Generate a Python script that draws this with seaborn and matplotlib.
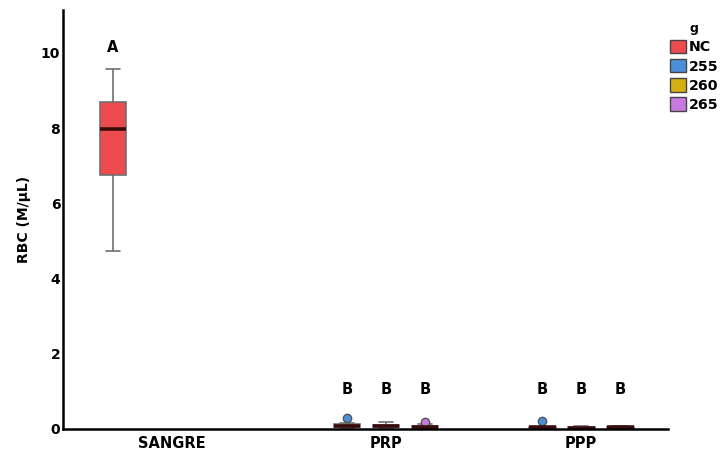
import numpy as np
import pandas as pd
import matplotlib
matplotlib.use("Agg")
import matplotlib.pyplot as plt
import seaborn as sns
from matplotlib.patches import Patch

# Sample groups and hue levels
groups = ["SANGRE", "PRP", "PPP"]
hue_levels = ["NC", "255", "260", "265"]
palette = {"NC": "#EE4B4E", "255": "#4A90D9", "260": "#D6B012", "265": "#C77BE0"}

# RBC measurements (M/µL) per group and hue level
sangre_nc = [4.72, 6.20, 6.76, 7.40, 7.97, 8.40, 8.70, 9.10, 9.57]
prp_255 = [0.02, 0.04, 0.05, 0.07, 0.08, 0.10, 0.12, 0.17, 0.28]
prp_260 = [0.02, 0.03, 0.04, 0.06, 0.07, 0.09, 0.11, 0.14, 0.18]
prp_265 = [0.02, 0.03, 0.04, 0.05, 0.06, 0.08, 0.09, 0.14, 0.19]
ppp_255 = [0.01, 0.02, 0.02, 0.03, 0.04, 0.04, 0.05, 0.06, 0.21]
ppp_260 = [0.01, 0.02, 0.02, 0.03, 0.03, 0.04, 0.05, 0.06, 0.07]
ppp_265 = [0.01, 0.02, 0.03, 0.03, 0.04, 0.05, 0.05, 0.06, 0.07]

# Slot positions along the x axis for each box, and group label positions
slots = {("SANGRE", "NC"): 0, ("PRP", "255"): 6, ("PRP", "260"): 7, ("PRP", "265"): 8,
         ("PPP", "255"): 11, ("PPP", "260"): 12, ("PPP", "265"): 13}
group_ticks = [1.5, 7.0, 12.0]

# Significance letters
letters = {("SANGRE", "NC"): "A", ("PRP", "255"): "B", ("PRP", "260"): "B", ("PRP", "265"): "B",
           ("PPP", "255"): "B", ("PPP", "260"): "B", ("PPP", "265"): "B"}
letter_y = {"SANGRE": 9.93, "PRP": 0.85, "PPP": 0.85}

series = {("SANGRE", "NC"): sangre_nc, ("PRP", "255"): prp_255, ("PRP", "260"): prp_260,
          ("PRP", "265"): prp_265, ("PPP", "255"): ppp_255, ("PPP", "260"): ppp_260,
          ("PPP", "265"): ppp_265}

rows = []
for (grp, g), vals in series.items():
    for v in vals:
        rows.append({"pos": slots[(grp, g)], "group": grp, "g": g, "RBC": v})
df = pd.DataFrame(rows)

sns.set_style("white")
plt.rcParams["font.family"] = ["DejaVu Sans"]
plt.rcParams["font.weight"] = "bold"
plt.rcParams["text.color"] = "black"
plt.rcParams["axes.labelcolor"] = "black"
plt.rcParams["xtick.color"] = "black"
plt.rcParams["ytick.color"] = "black"

fig = plt.figure(figsize=(7.22, 4.53), dpi=100)
ax = fig.add_axes([0.0873, 0.053, 0.838, 0.925])

sns.boxplot(data=df, x="pos", y="RBC", hue="g", hue_order=hue_levels, palette=palette,
            native_scale=True, dodge=False, width=0.69, whis=1.5, linecolor="#707070",
            linewidth=1.2, fliersize=6,
            medianprops={"color": "#3a0c0c", "linewidth": 2.6},
            flierprops={"marker": "o", "markeredgecolor": "#555555"},
            saturation=1, ax=ax, legend=False)

# Colour each flier with its box fill
for patch_container, level in zip(ax.containers, hue_levels):
    try:
        for fl in patch_container.fliers:
            fl.set_markerfacecolor(palette[level])
    except AttributeError:
        pass

for key, txt in letters.items():
    ax.text(slots[key], letter_y[key[0]], txt, ha="center", va="bottom",
            fontsize=10.5, fontweight="bold", color="black")

ax.set_xlim(-1.28, 14.23)
ax.set_ylim(0, 11.14)
ax.set_yticks([0, 2, 4, 6, 8, 10])
ax.set_yticklabels(["0", "2", "4", "6", "8", "10"], fontsize=10, fontweight="bold")
ax.set_xticks(group_ticks)
ax.set_xticklabels(groups, fontsize=10.5, fontweight="bold")
ax.tick_params(axis="x", length=0, pad=5)
ax.tick_params(axis="y", length=0, pad=2)
ax.set_xlabel("")
ax.set_ylabel("RBC (M/µL)", fontsize=10, fontweight="bold", labelpad=7)

for side in ["top", "right"]:
    ax.spines[side].set_visible(False)
for side in ["left", "bottom"]:
    ax.spines[side].set_color("black")
    ax.spines[side].set_linewidth(1.8)

handles = [Patch(facecolor=palette[h], edgecolor="#444444", linewidth=1.0) for h in hue_levels]
leg = ax.legend(handles, hue_levels, title="g", loc="upper left", bbox_to_anchor=(0.994, 0.985),
                frameon=False, handlelength=1.1, handleheight=1.1, handletextpad=0.2,
                labelspacing=0.33, borderaxespad=0, prop={"size": 10.2, "weight": "bold"},
                title_fontproperties={"size": 9, "weight": "bold"})

fig.savefig("out.png", dpi=100)
